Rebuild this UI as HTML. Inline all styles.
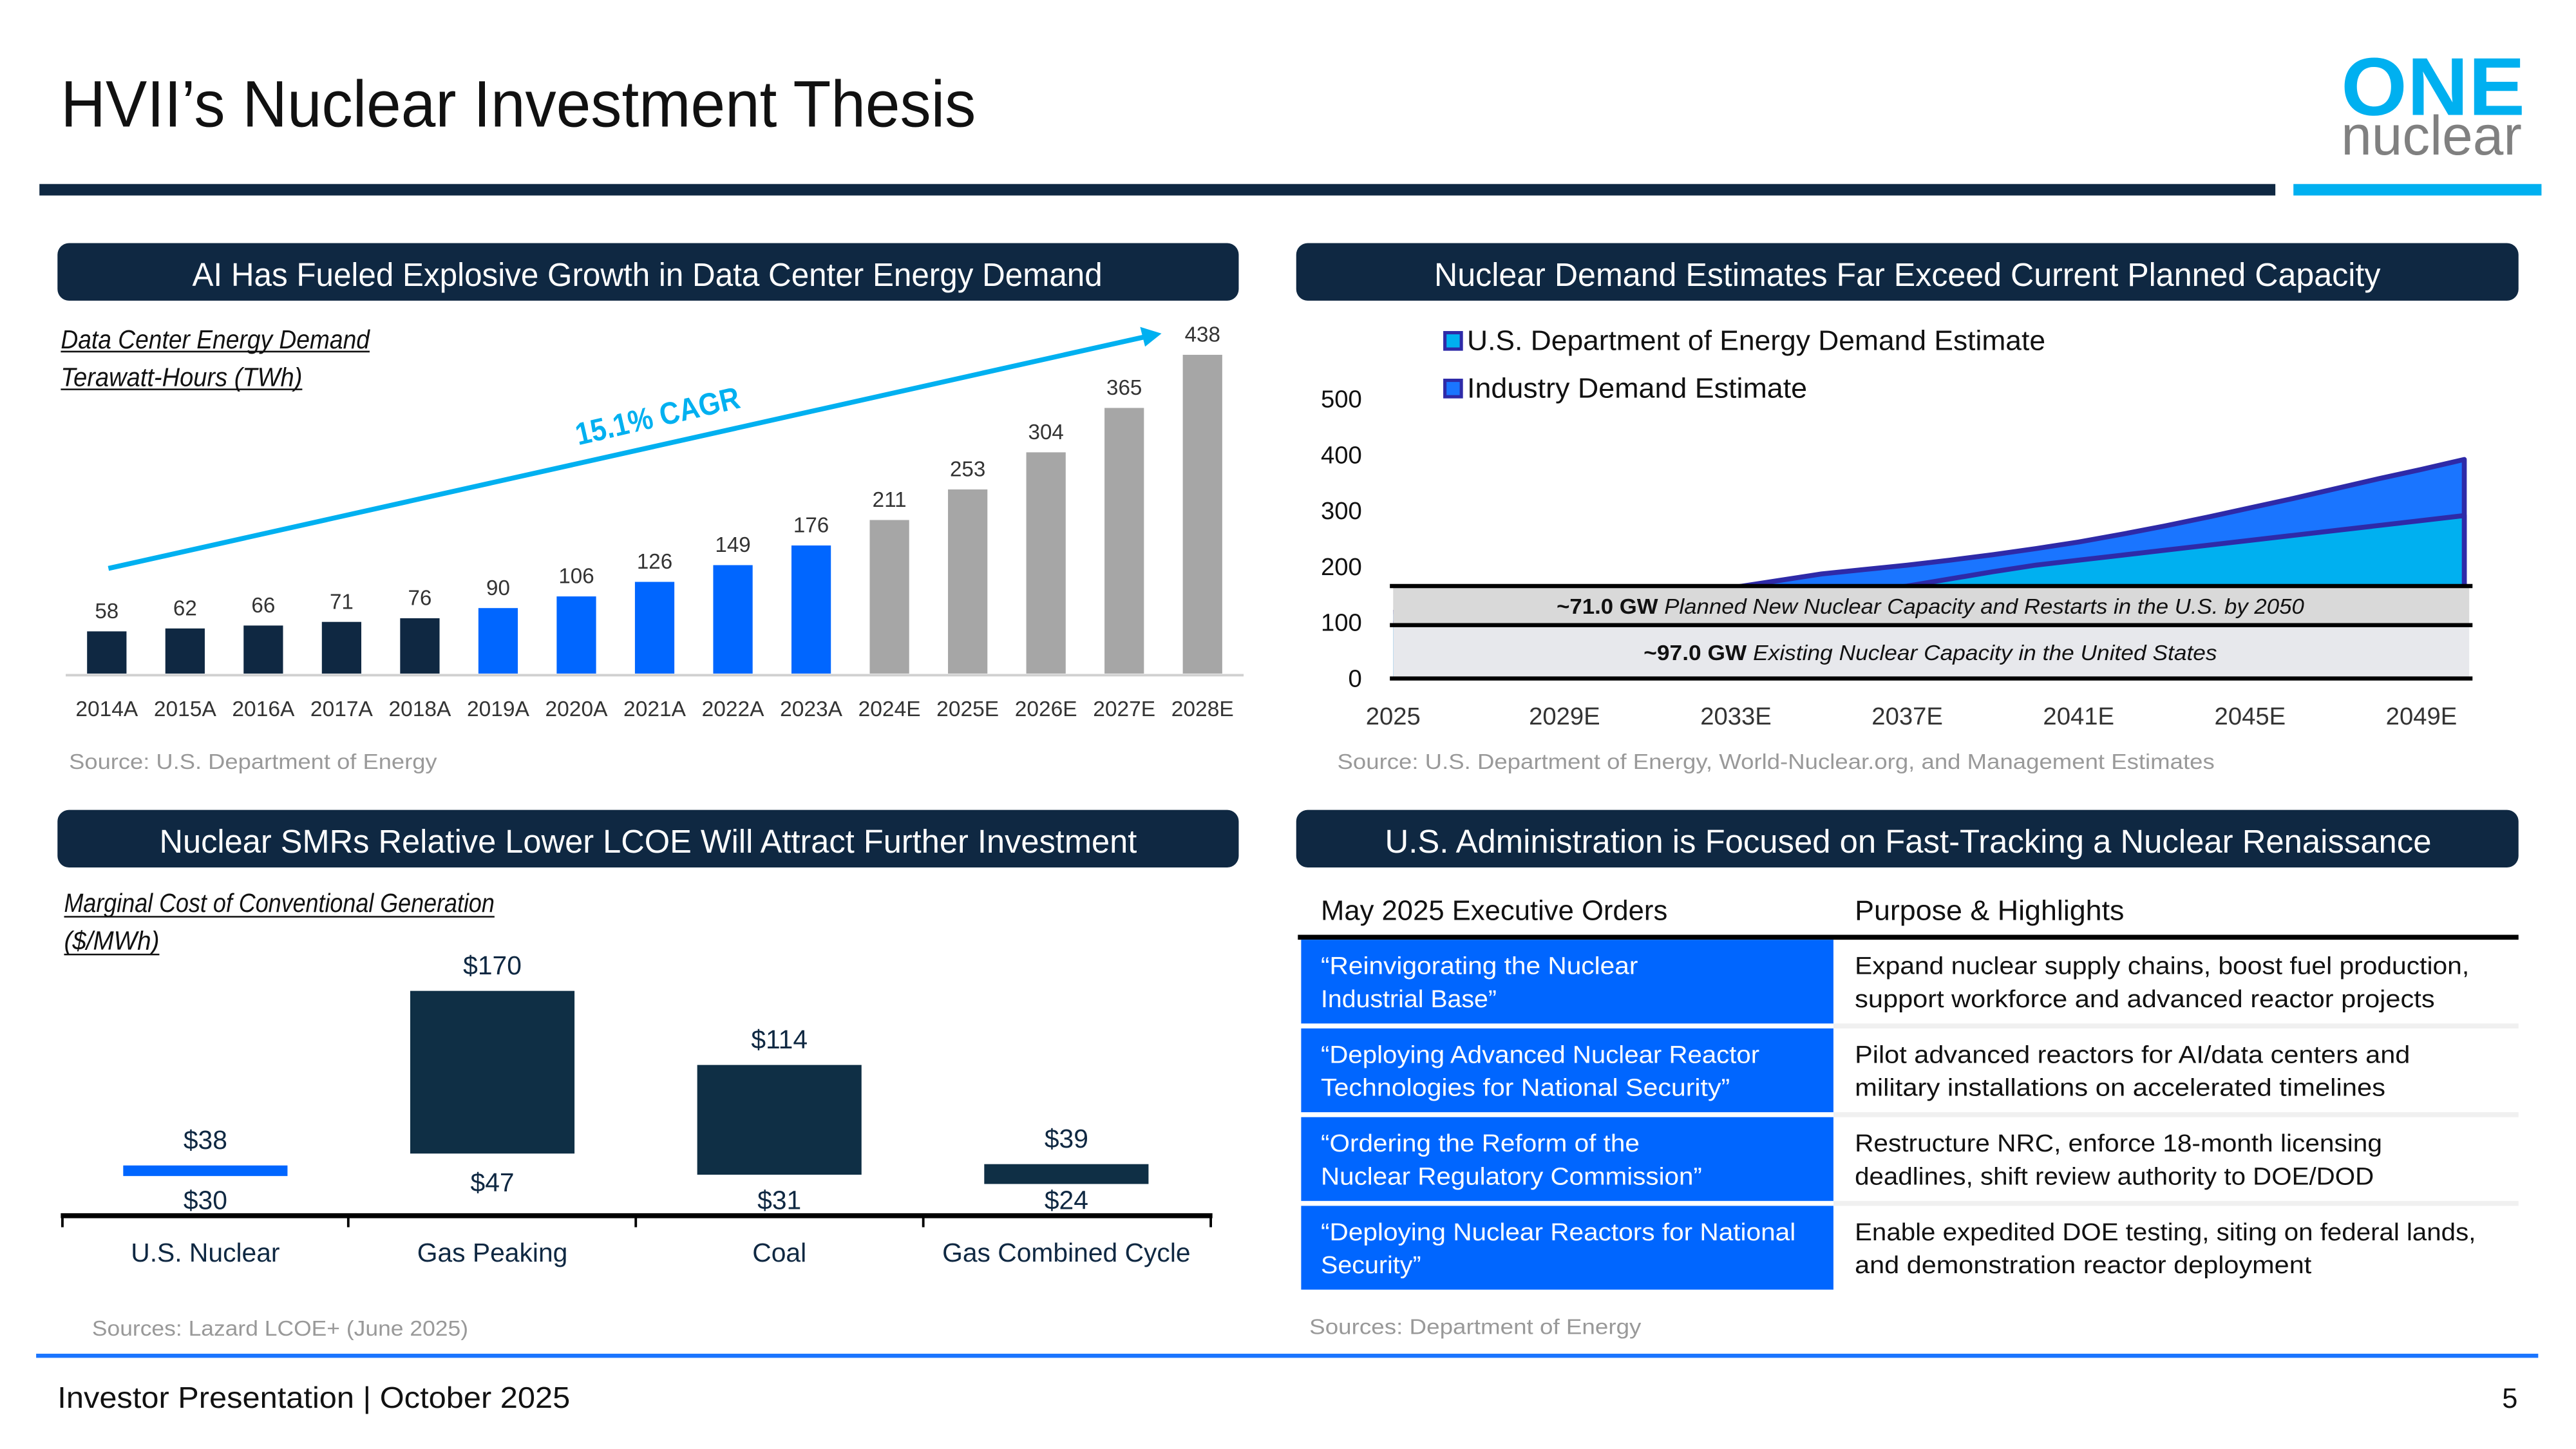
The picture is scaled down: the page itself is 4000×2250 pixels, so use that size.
<!DOCTYPE html>
<html><head><meta charset="utf-8">
<style>
html,body{margin:0;padding:0;background:#fff;}
svg{display:block;font-family:"Liberation Sans",sans-serif;}
</style></head>
<body>
<svg id="slide" width="4000" height="2250" viewBox="0 0 1568 882" xmlns="http://www.w3.org/2000/svg">
<rect x="0" y="0" width="1568" height="882" fill="#fff"/>
<text x="37" y="77" font-size="40" fill="#111" textLength="557" lengthAdjust="spacingAndGlyphs">HVII’s Nuclear Investment Thesis</text>
<g>
<text x="1425" y="70" font-size="50" font-weight="bold" fill="#00b0f0" textLength="112" lengthAdjust="spacingAndGlyphs">ONE</text>
<text x="1425" y="94" font-size="34" fill="#808080" textLength="110" lengthAdjust="spacingAndGlyphs">nuclear</text>
</g>
<rect x="24" y="112" width="1361" height="7" fill="#0f2842"/>
<rect x="1396" y="112" width="151" height="7" fill="#00b0f0"/>

<g>
<rect x="35" y="148" width="719" height="35" rx="7" fill="#0f2842"/>
<text x="117" y="174" font-size="20" fill="#fff" textLength="554" lengthAdjust="spacingAndGlyphs">AI Has Fueled Explosive Growth in Data Center Energy Demand</text></g>
<g>
<rect x="789" y="148" width="744" height="35" rx="7" fill="#0f2842"/>
<text x="873" y="174" font-size="20" fill="#fff" textLength="576" lengthAdjust="spacingAndGlyphs">Nuclear Demand Estimates Far Exceed Current Planned Capacity</text></g>
<g>
<rect x="35" y="493" width="719" height="35" rx="7" fill="#0f2842"/>
<text x="97" y="519" font-size="20" fill="#fff" textLength="595" lengthAdjust="spacingAndGlyphs">Nuclear SMRs Relative Lower LCOE Will Attract Further Investment</text></g>
<g>
<rect x="789" y="493" width="744" height="35" rx="7" fill="#0f2842"/>
<text x="843" y="519" font-size="20" fill="#fff" textLength="637" lengthAdjust="spacingAndGlyphs">U.S. Administration is Focused on Fast-Tracking a Nuclear Renaissance</text></g>

<g id="c1">
<text x="37" y="212" font-size="16" font-style="italic" fill="#111" textLength="188" lengthAdjust="spacingAndGlyphs">Data Center Energy Demand</text>
<line x1="37" y1="214" x2="225" y2="214" stroke="#111" stroke-width="1"/>
<text x="37" y="235" font-size="16" font-style="italic" fill="#111" textLength="147" lengthAdjust="spacingAndGlyphs">Terawatt-Hours (TWh)</text>
<line x1="37" y1="237" x2="184" y2="237" stroke="#111" stroke-width="1"/>
<line x1="40" y1="411" x2="757" y2="411" stroke="#d0d0d0" stroke-width="1.5"/>
<g id="c1bars"></g>
<line x1="66" y1="346" x2="697" y2="205" stroke="#00b0f0" stroke-width="3"/>
<polygon points="707,203 694,199 697,211" fill="#00b0f0"/>
<text x="0" y="0" font-size="19" font-weight="bold" fill="#00b0f0" transform="translate(352,271) rotate(-13)" textLength="102" lengthAdjust="spacingAndGlyphs">15.1% CAGR</text>
<text x="42" y="468" font-size="13" fill="#999" textLength="224" lengthAdjust="spacingAndGlyphs">Source: U.S. Department of Energy</text>
</g>

<g id="c2">
<g>
<rect x="879.5" y="202.5" width="10" height="10" fill="#00b0f0" stroke="#2e2aa8" stroke-width="2"/>
<text x="893" y="213" font-size="17" fill="#111" textLength="352" lengthAdjust="spacingAndGlyphs">U.S. Department of Energy Demand Estimate</text></g>
<g>
<rect x="879.5" y="231.5" width="10" height="10" fill="#1a75ff" stroke="#2e2aa8" stroke-width="2"/>
<text x="893" y="242" font-size="17" fill="#111" textLength="207" lengthAdjust="spacingAndGlyphs">Industry Demand Estimate</text></g>
<g id="c2plot"></g>
<text x="814" y="468" font-size="13" fill="#999" textLength="534" lengthAdjust="spacingAndGlyphs">Source: U.S. Department of Energy, World-Nuclear.org, and Management Estimates</text>
</g>

<g id="c3">
<text x="39" y="555" font-size="16" font-style="italic" fill="#111" textLength="262" lengthAdjust="spacingAndGlyphs">Marginal Cost of Conventional Generation</text>
<line x1="39" y1="558" x2="301" y2="558" stroke="#111" stroke-width="1"/>
<text x="39" y="578" font-size="16" font-style="italic" fill="#111" textLength="58" lengthAdjust="spacingAndGlyphs">($/MWh)</text>
<line x1="39" y1="581" x2="97" y2="581" stroke="#111" stroke-width="1"/>
<g id="c3plot"></g>
<text x="56" y="813" font-size="13" fill="#999" textLength="229" lengthAdjust="spacingAndGlyphs">Sources: Lazard LCOE+ (June 2025)</text>
</g>

<g id="tbl">
<text x="804" y="560" font-size="17" fill="#111" textLength="211" lengthAdjust="spacingAndGlyphs">May 2025 Executive Orders</text>
<text x="1129" y="560" font-size="17" fill="#111" textLength="164" lengthAdjust="spacingAndGlyphs">Purpose &amp; Highlights</text>
<rect x="790" y="569" width="743" height="3" fill="#000"/>
<g id="rows"></g>
<text x="797" y="812" font-size="13" fill="#999" textLength="202" lengthAdjust="spacingAndGlyphs">Sources: Department of Energy</text>
</g>

<rect x="22" y="824" width="1523" height="2.5" fill="#1a75ff"/>
<text x="35" y="857" font-size="18" fill="#111" textLength="312" lengthAdjust="spacingAndGlyphs">Investor Presentation | October 2025</text>
<text x="1523" y="857" font-size="17" fill="#111">5</text>
</svg>
<script>
const NS='http://www.w3.org/2000/svg';
function mk(tag,attrs,parent){const e=document.createElementNS(NS,tag);for(const k in attrs)e.setAttribute(k,attrs[k]);parent.appendChild(e);return e;}

const c1Years=['2014A','2015A','2016A','2017A','2018A','2019A','2020A','2021A','2022A','2023A','2024E','2025E','2026E','2027E','2028E'];
const c1Values=[58,62,66,71,76,90,106,126,149,176,211,253,304,365,438];
const c1Groups=['hist','hist','hist','hist','hist','recent','recent','recent','recent','recent','est','est','est','est','est'];
const c2Years=[2025,2026,2027,2028,2029,2030,2031,2032,2033,2034,2035,2036,2037,2038,2039,2040,2041,2042,2043,2044,2045,2046,2047,2048,2049,2050];
const c2Industry=[120,125,130,135,140,146,152,158,166,178,190,198,206,215,225,236,248,262,277,293,310,327,345,363,380,398];
const c2Doe=[100,105,110,115,120,125,130,135,140,145,150,158,168,181,194,206,215,224,233,242,251,260,269,278,287,296];
const c2Existing=97;
const c2Planned=71;
const c2YTicks=[0,100,200,300,400,500];
const c2XTicks=['2025','2029E','2033E','2037E','2041E','2045E','2049E'];
const c2XTickYears=[2025,2029,2033,2037,2041,2045,2049];
const c3Cats=['U.S. Nuclear','Gas Peaking','Coal','Gas Combined Cycle'];
const c3Low=[30,47,31,24];
const c3High=[38,170,114,39];

(function(){
 const g=document.getElementById('c1bars');
 const x0=65,step=47.64,base=410,k=0.443,bw=24;
 const col={hist:'#0f2842',recent:'#0066ff',est:'#a6a6a6'};
 const xs=i=>x0+i*step, ys=v=>base-v*k;
 c1Values.forEach((v,i)=>{
  const r=mk('rect',{x:xs(i)-bw/2,y:ys(v),width:bw,height:base-ys(v),fill:col[c1Groups[i]]},g);
  
  
  const t=mk('text',{x:xs(i),y:ys(v)-8,'font-size':13,fill:'#333','text-anchor':'middle'},g);
  
  
  t.textContent=v;
  const l=mk('text',{x:xs(i),y:436,'font-size':13,fill:'#333','text-anchor':'middle',textLength:38,lengthAdjust:'spacingAndGlyphs'},g);
  
  
  l.textContent=c1Years[i];
 });
})();

(function(){
 const g=document.getElementById('c2plot');
 const X=yr=>848+(yr-2025)*26.08, Y=v=>413-v*0.335;
 const xEnd=X(2050);
 function area(vals,fill,name){
  let d='M'+X(c2Years[0])+','+Y(0);
  vals.forEach((v,i)=>{d+=' L'+X(c2Years[i])+','+Y(v);});
  d+=' L'+xEnd+','+Y(0)+' Z';
  const p=mk('path',{d:d,fill:fill},g);
  
  
  let dl='';
  vals.forEach((v,i)=>{dl+=(i?' L':'M')+X(c2Years[i])+','+Y(v);});
  dl+=' L'+xEnd+','+Y(0);
  const l=mk('path',{d:dl,fill:'none',stroke:'#2e2aa8','stroke-width':3,'stroke-linejoin':'round'},g);
  
  
 }
 area(c2Industry,'#1a75ff','industry-demand');
 area(c2Doe,'#00b0f0','doe-demand');
 const top=c2Existing+c2Planned;
 const b1=mk('rect',{x:848,y:Y(top),width:655,height:Y(c2Existing)-Y(top),fill:'#d9d9d9'},g);
 
 
 const b2=mk('rect',{x:848,y:Y(c2Existing),width:655,height:Y(0)-Y(c2Existing),fill:'#e7e8ec'},g);
 
 
 [0,c2Existing,top].forEach(v=>{
  const l=mk('line',{x1:846,x2:1505,y1:Y(v),y2:Y(v),stroke:'#000','stroke-width':2.5},g);
  
  
 });
 const t1=mk('text',{x:1175,y:(Y(top)+Y(c2Existing))/2+5,'font-size':13,'font-style':'italic',fill:'#111','text-anchor':'middle',textLength:455,lengthAdjust:'spacingAndGlyphs'},g);
 
 
 t1.innerHTML='<tspan font-weight="bold" font-style="normal">~'+c2Planned.toFixed(1)+' GW</tspan>  Planned New Nuclear Capacity and Restarts in the U.S. by 2050';
 const t2=mk('text',{x:1175,y:(Y(c2Existing)+Y(0))/2+5,'font-size':13,'font-style':'italic',fill:'#111','text-anchor':'middle',textLength:349,lengthAdjust:'spacingAndGlyphs'},g);
 
 
 t2.innerHTML='<tspan font-weight="bold" font-style="normal">~'+c2Existing.toFixed(1)+' GW</tspan> Existing Nuclear Capacity in the United States';
 c2YTicks.forEach(v=>{
  const t=mk('text',{x:829,y:413-v*0.34+5,'font-size':15,fill:'#111','text-anchor':'end'},g);
  
  
  t.textContent=v;
 });
 c2XTicks.forEach((s,i)=>{
  const t=mk('text',{x:X(c2XTickYears[i]),y:441,'font-size':15,fill:'#333','text-anchor':'middle'},g);
  
  
  t.textContent=s;
 });
})();

(function(){
 const g=document.getElementById('c3plot');
 const base=740,k=0.805,bw=100;
 const X=i=>125+i*174.7, Y=v=>base-v*k;
 c3Cats.forEach((c,i)=>{
  const r=mk('rect',{x:X(i)-bw/2,y:Y(c3High[i]),width:bw,height:Math.max(6,Y(c3Low[i])-Y(c3High[i])),fill:i===0?'#0066ff':'#0f2f45'},g);
  
  
  const th=mk('text',{x:X(i),y:Y(c3High[i])-10,'font-size':16,fill:'#0f2842','text-anchor':'middle'},g);
  
  
  th.textContent='$'+c3High[i];
  const tl=mk('text',{x:X(i),y:Math.min(Y(c3Low[i])+23,736),'font-size':16,fill:'#0f2842','text-anchor':'middle'},g);
  
  
  tl.textContent='$'+c3Low[i];
  const tc=mk('text',{x:X(i),y:768,'font-size':16,fill:'#0f2842','text-anchor':'middle'},g);
  
  
  tc.textContent=c;
 });
 const ax=mk('line',{x1:37,x2:738,y1:base,y2:base,stroke:'#000','stroke-width':3},g);
 
 
 [38,212,387,562,737].forEach(x=>{
  const t=mk('line',{x1:x,x2:x,y1:base,y2:747,stroke:'#000','stroke-width':1.5},g);
  
  
 });
})();

(function(){
 const g=document.getElementById('rows');
 const rows=[
  [['“Reinvigorating the Nuclear',193],['Industrial Base”',107],['Expand nuclear supply chains, boost fuel production,',374],['support workforce and advanced reactor projects',353]],
  [['“Deploying Advanced Nuclear Reactor',267],['Technologies for National Security”',249],['Pilot advanced reactors for AI/data centers and',338],['military installations on accelerated timelines',323]],
  [['“Ordering the Reform of the',194],['Nuclear Regulatory Commission”',232],['Restructure NRC, enforce 18-month licensing',321],['deadlines, shift review authority to DOE/DOD',316]],
  [['“Deploying Nuclear Reactors for National',289],['Security”',61],['Enable expedited DOE testing, siting on federal lands,',378],['and demonstration reactor deployment',278]]
 ];
 rows.forEach((r,i)=>{
  const y=572+i*54;
  const b=mk('rect',{x:792,y:y,width:324,height:51,fill:'#0066ff'},g);
  
  
  if(i<3){const s=mk('rect',{x:1116,y:y+51,width:417,height:3,fill:'#f0f0f0'},g);
   
   }
  [[r[0],804,'#fff',0],[r[1],804,'#fff',20],[r[2],1129,'#111',0],[r[3],1129,'#111',20]].forEach(a=>{
   const t=mk('text',{x:a[1],y:y+21+a[3],'font-size':15,fill:a[2],textLength:a[0][1],lengthAdjust:'spacingAndGlyphs'},g);
   
   
   t.textContent=a[0][0];
  });
 });
})();
</script>
</body></html>
